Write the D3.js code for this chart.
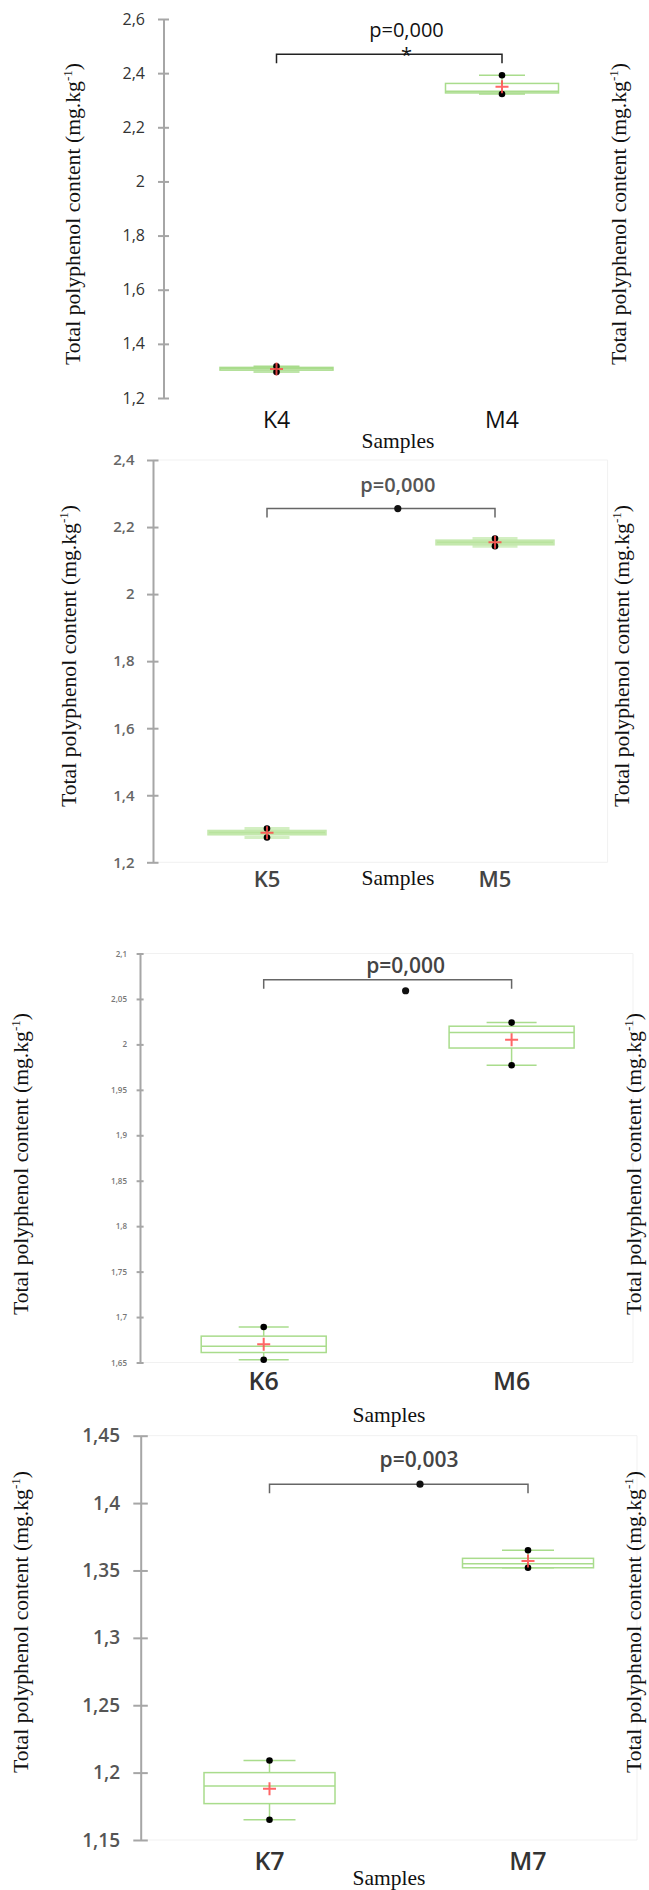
<!DOCTYPE html>
<html>
<head>
<meta charset="utf-8">
<script src="https://cdn.jsdelivr.net/npm/d3@7"></script>
<style>
  body { margin: 0; background: #fff; }
</style>
</head>
<body>
<div id="chart"></div>
<script>
// one entry per panel (K = control, M = sample)
const samples = [["K4", "M4"], ["K5", "M5"], ["K6", "M6"], ["K7", "M7"]];
const pLabels = ["p=0,000", "p=0,000", "p=0,000", "p=0,003"];
const yDomains = [[1.2, 2.6], [1.2, 2.4], [1.65, 2.1], [1.15, 1.45]];
const yTicks = [
  [1.2, 1.4, 1.6, 1.8, 2, 2.2, 2.4, 2.6],
  [1.2, 1.4, 1.6, 1.8, 2, 2.2, 2.4],
  [1.65, 1.7, 1.75, 1.8, 1.85, 1.9, 1.95, 2, 2.05, 2.1],
  [1.15, 1.2, 1.25, 1.3, 1.35, 1.4, 1.45]
];

// box plot values
const minVals    = [[1.296, 2.323], [1.274, 2.143], [1.653, 1.977], [1.165, 1.352]];
const q1Vals     = [[1.303, 2.327], [1.285, 2.150], [1.661, 1.996], [1.177, 1.352]];
const medianVals = [[1.308, 2.333], [1.289, 2.155], [1.668, 2.013], [1.190, 1.355]];
const q3Vals     = [[1.313, 2.362], [1.292, 2.158], [1.679, 2.020], [1.200, 1.359]];
const maxVals    = [[1.317, 2.392], [1.301, 2.166], [1.689, 2.024], [1.209, 1.365]];
const meanVals   = [[1.307, 2.350], [1.288, 2.155], [1.670, 2.005], [1.188, 1.357]];

// significance bracket height and the marker drawn with it
const bracketVals = [2.470, 2.255, 2.071, 1.414];
const markerVals  = [2.470, 2.255, 2.059, 1.414];

const yLabel = "Total polyphenol content (mg.kg";

const layout = [
  {top: 19, bottom: 398, axisX: 163.5, x0: 276.5, x1: 502, boxW: 113, capW: 46,
   tl: 5.5, tr: 5.5, tickFont: 16, tickColor: "#333", tickWeight: 400, tickGap: 18.5,
   pY: 37.3, pFont: 20, pColor: "#111", pWeight: 400, brColor: "#222",
   catY: 428, catFont: 23, catColor: "#111", catWeight: 400,
   sampX: 398, sampY: 448, labL: 72.4, labR: 618, labY: 214, boxStroke: 1.5, star: true, frameR: null,
   markX: 406.5, pX: 406.5},
  {top: 460, bottom: 862.3, axisX: 153, x0: 267, x1: 495, boxW: 116, capW: 45,
   tl: 6, tr: 5.5, tickFont: 15, tickColor: "#666", tickWeight: 600, tickGap: 18.5,
   pY: 491.7, pFont: 20, pColor: "#555", pWeight: 600, brColor: "#666",
   catY: 886.7, catFont: 22, catColor: "#444", catWeight: 600,
   sampX: 398, sampY: 885, labL: 68.3, labR: 621, labY: 656, boxStroke: 3.5, star: false, frameR: 607.6,
   markX: 397.8, pX: 397.8},
  {top: 953.5, bottom: 1362.5, axisX: 140, x0: 263.7, x1: 511.6, boxW: 125, capW: 50,
   tl: 3.4, tr: 3.6, tickFont: 8, tickColor: "#777", tickWeight: 600, tickGap: 13,
   pY: 973.3, pFont: 21, pColor: "#444", pWeight: 600, brColor: "#666",
   catY: 1390, catFont: 25, catColor: "#333", catWeight: 600,
   sampX: 389, sampY: 1422, labL: 20.7, labR: 633, labY: 1164, boxStroke: 1.5, star: false, frameR: 633,
   markX: 405.6, pX: 405.6},
  {top: 1435.7, bottom: 1840, axisX: 140.7, x0: 269.5, x1: 528, boxW: 131, capW: 52,
   tl: 7.4, tr: 7.1, tickFont: 19, tickColor: "#555", tickWeight: 600, tickGap: 20.7,
   pY: 1467.3, pFont: 21, pColor: "#444", pWeight: 600, brColor: "#666",
   catY: 1870, catFont: 25, catColor: "#333", catWeight: 600,
   sampX: 389, sampY: 1885, labL: 20.7, labR: 633, labY: 1622, boxStroke: 1.5, star: false, frameR: 637,
   markX: 420, pX: 419}
];

const width = 649, height = 1890;
const green = "#a9dc8c";
const sans = "'Open Sans', 'Noto Sans', sans-serif";
const serif = "'Liberation Serif', 'DejaVu Serif', serif";

const svg = d3.select("#chart").append("svg")
  .attr("width", width)
  .attr("height", height);

const fmt = d => String(+d.toFixed(2)).replace(".", ",");

samples.forEach((cats, i) => {
  const L = layout[i];
  const g = svg.append("g");

  const y = d3.scaleLinear().domain(yDomains[i]).range([L.bottom, L.top]);
  const x = d3.scalePoint().domain(cats).range([L.x0, L.x1]);
  const flat = L.boxStroke > 2;

  // faint plot frame on the pasted excel charts
  if (L.frameR) {
    g.append("path")
      .attr("d", `M${L.axisX},${L.top}H${L.frameR}V${L.bottom}H${L.axisX}`)
      .attr("fill", "none")
      .attr("stroke", "#f1f1f1")
      .attr("stroke-width", 1);
  }

  // y axis
  const axis = g.append("g")
    .attr("transform", `translate(${L.axisX},0)`)
    .call(d3.axisLeft(y).tickValues(yTicks[i]).tickFormat(fmt)
      .tickSize(L.tl).tickSizeOuter(0).tickPadding(L.tickGap - L.tl));
  axis.select(".domain").attr("stroke", "#a6a6a6").attr("stroke-width", 2);
  axis.selectAll(".tick line")
    .attr("x1", L.tr)
    .attr("stroke", "#a6a6a6")
    .attr("stroke-width", 2);
  axis.selectAll(".tick text")
    .attr("font-family", sans)
    .attr("font-size", L.tickFont)
    .attr("font-weight", L.tickWeight)
    .attr("fill", L.tickColor);

  // boxes
  const rows = cats.map((c, j) => ({
    cat: c, min: minVals[i][j], q1: q1Vals[i][j], med: medianVals[i][j],
    q3: q3Vals[i][j], max: maxVals[i][j], mean: meanVals[i][j]
  }));

  const box = g.selectAll(".box").data(rows).enter().append("g")
    .attr("class", "box")
    .attr("transform", d => `translate(${x(d.cat)},0)`);

  box.append("line")
    .attr("y1", d => y(d.min)).attr("y2", d => y(d.q1))
    .attr("stroke", green).attr("stroke-width", 1.5);
  box.append("line")
    .attr("y1", d => y(d.q3)).attr("y2", d => y(d.max))
    .attr("stroke", green).attr("stroke-width", 1.5);

  box.selectAll(".cap").data(d => [d.min, d.max]).enter().append("line")
    .attr("class", "cap")
    .attr("x1", -L.capW / 2).attr("x2", L.capW / 2)
    .attr("y1", v => y(v)).attr("y2", v => y(v))
    .attr("stroke", flat ? "#d3efc2" : green)
    .attr("stroke-width", flat ? 3 : 1.5);

  box.append("rect")
    .attr("x", -L.boxW / 2)
    .attr("width", L.boxW)
    .attr("y", d => y(d.q3))
    .attr("height", d => Math.max(0.5, y(d.q1) - y(d.q3)))
    .attr("fill", flat ? "#c9eab4" : "none")
    .attr("stroke", flat ? "#c4e8ad" : green)
    .attr("stroke-width", L.boxStroke);

  box.append("line")
    .attr("x1", -L.boxW / 2).attr("x2", L.boxW / 2)
    .attr("y1", d => y(d.med)).attr("y2", d => y(d.med))
    .attr("stroke", flat ? "#b9e39e" : green).attr("stroke-width", 1.5);

  box.selectAll(".pt").data(d => [d.min, d.max]).enter().append("circle")
    .attr("class", "pt")
    .attr("cy", v => y(v))
    .attr("r", 3.3)
    .attr("fill", "#000");

  // mean marker
  box.append("path")
    .attr("d", d => `M-6.5,${y(d.mean)}h13M0,${y(d.mean) - 6.5}v13`)
    .attr("stroke", "#ff4b4b")
    .attr("stroke-opacity", 0.85)
    .attr("stroke-width", 2);

  // significance bracket
  const by = y(bracketVals[i]);
  g.append("path")
    .attr("d", `M${x(cats[0])},${by + 9}V${by}H${x(cats[1])}V${by + 9}`)
    .attr("fill", "none")
    .attr("stroke", L.brColor)
    .attr("stroke-width", 1.5);

  if (L.star) {
    g.append("text")
      .attr("x", L.markX)
      .attr("y", y(markerVals[i]) + 8)
      .attr("text-anchor", "middle")
      .attr("font-family", sans)
      .attr("font-size", 20)
      .attr("fill", "#111")
      .text("*");
  } else {
    g.append("circle")
      .attr("cx", L.markX)
      .attr("cy", y(markerVals[i]))
      .attr("r", 3.6)
      .attr("fill", "#111");
  }

  g.append("text")
    .attr("x", L.pX)
    .attr("y", L.pY)
    .attr("text-anchor", "middle")
    .attr("font-family", sans)
    .attr("font-size", L.pFont)
    .attr("font-weight", L.pWeight)
    .attr("fill", L.pColor)
    .text(pLabels[i]);

  // category labels
  g.selectAll(".cat").data(cats).enter().append("text")
    .attr("class", "cat")
    .attr("x", d => x(d))
    .attr("y", L.catY)
    .attr("text-anchor", "middle")
    .attr("font-family", sans)
    .attr("font-size", L.catFont)
    .attr("font-weight", L.catWeight)
    .attr("fill", L.catColor)
    .text(d => d);

  g.append("text")
    .attr("x", L.sampX)
    .attr("y", L.sampY)
    .attr("text-anchor", "middle")
    .attr("font-family", serif)
    .attr("font-size", 21.5)
    .attr("fill", "#111")
    .text("Samples");

  // y axis titles, left and right
  [L.labL, L.labR].forEach(lx => {
    const t = g.append("text")
      .attr("transform", `translate(${lx},${L.labY}) rotate(-90)`)
      .attr("dy", "0.35em")
      .attr("text-anchor", "middle")
      .attr("font-family", serif)
      .attr("font-size", 21.7)
      .attr("fill", "#111");
    t.append("tspan").text(yLabel);
    t.append("tspan").attr("font-size", 13).attr("dy", -8).text("-1");
    t.append("tspan").attr("dy", 8).text(")");
  });
});
</script>
</body>
</html>
